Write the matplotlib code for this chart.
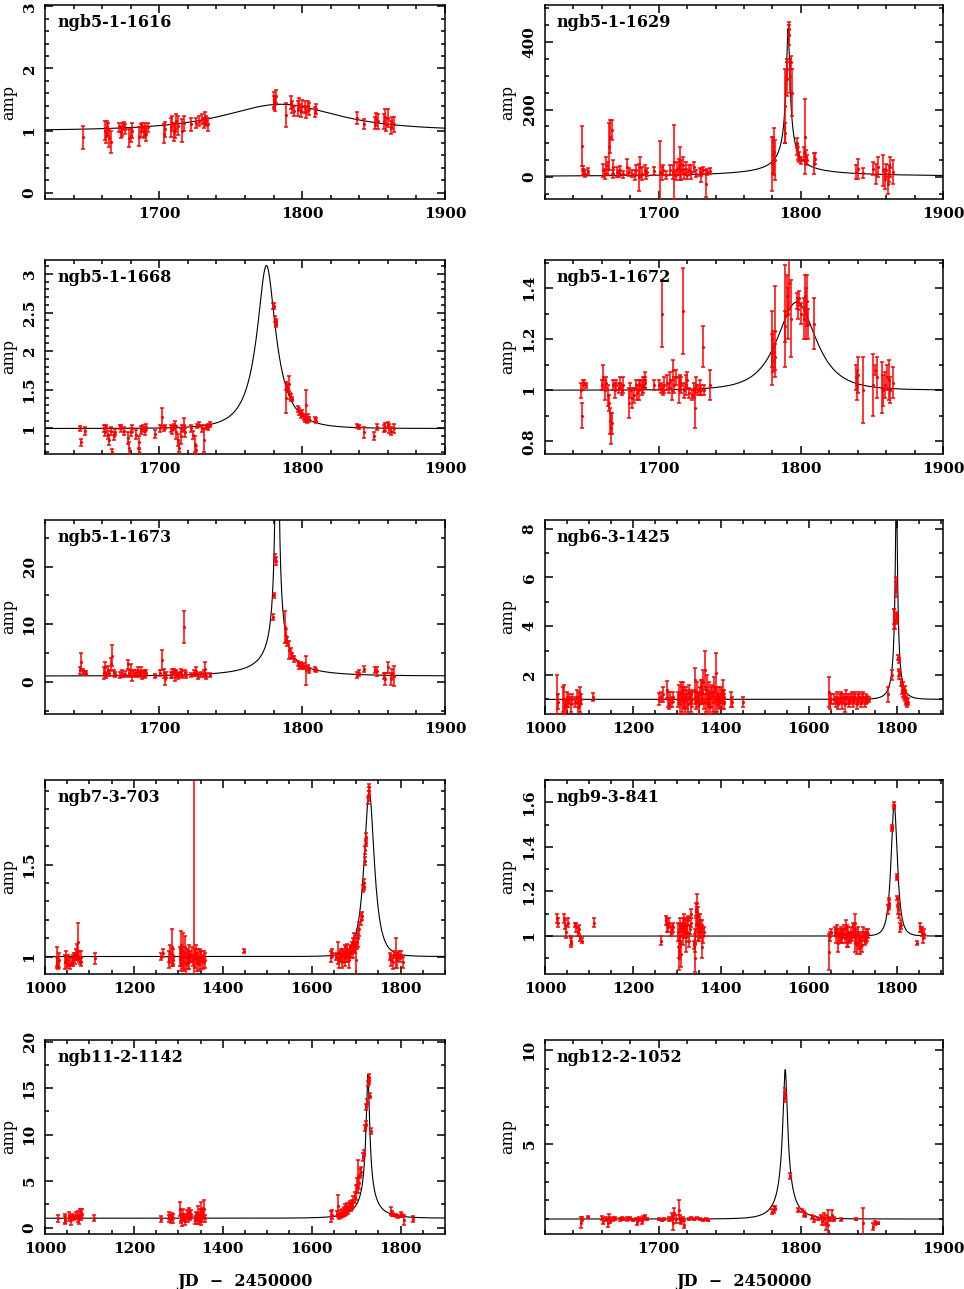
import numpy as np
import matplotlib.pyplot as plt
from matplotlib.ticker import MultipleLocator, FuncFormatter

plt.rcParams['font.family'] = 'DejaVu Serif'
plt.rcParams['font.weight'] = 'bold'

# star names, panel order: row by row, left then right
names = ['ngb5-1-1616', 'ngb5-1-1629', 'ngb5-1-1668', 'ngb5-1-1672', 'ngb5-1-1673',
         'ngb6-3-1425', 'ngb7-3-703', 'ngb9-3-841', 'ngb11-2-1142', 'ngb12-2-1052']

# model parameters (t0, tE, u0)
t0s = [1785, 1791, 1775, 1797, 1782.5, 1799, 1729.5, 1794, 1726.5, 1789]
tEs = [54, 516, 19, 17.3, 50, 21, 21, 11, 60, 14]
u0s = [0.9, 0.00227, 0.335, 0.995, 0.01, 0.10, 0.595, 0.755, 0.061, 0.112]

xlims = [(1620, 1900)] * 5 + [(1000, 1905), (1000, 1900), (1000, 1905), (1000, 1900), (1620, 1900)]
ylims = [(-0.1, 3.02), (-65, 510), (0.67, 3.18), (0.75, 1.51), (-5.6, 28.1),
         (0.4, 8.35), (0.905, 1.96), (0.83, 1.70), (-0.7, 20.2), (0.2, 10.55)]
ymaj = [1, 200, 0.5, 0.2, 10, 2, 0.5, 0.2, 5, 5]
ymin = [0.2, 50, 0.1, 0.1, 5, 1, 0.1, 0.1, 2.5, 1]

# (JD-2450000, amplification, error)
p1616 = [
    (1646.4, 0.89, 0.19),
    (1662, 1.00, 0.15), (1663, 0.92, 0.12), (1663.5, 1.05, 0.10), (1664, 1.02, 0.10), (1665, 0.88, 0.15), (1666, 0.82, 0.18),
    (1672, 1.05, 0.08), (1673, 0.98, 0.10), (1674, 1.02, 0.10), (1675, 1.08, 0.06), (1676, 1.02, 0.08),
    (1679, 0.88, 0.15), (1680, 0.92, 0.10), (1681, 1.00, 0.12),
    (1686, 0.90, 0.15), (1687, 1.00, 0.10), (1688, 1.05, 0.08), (1689, 0.98, 0.10), (1690, 1.02, 0.10), (1691, 0.95, 0.12), (1692, 1.05, 0.08),
    (1703, 0.95, 0.15), (1704, 1.02, 0.12), (1708, 1.05, 0.15), (1709, 1.12, 0.12), (1710, 0.98, 0.15), (1711, 1.00, 0.12), (1712, 1.15, 0.12), (1713, 1.08, 0.15),
    (1716, 1.00, 0.18), (1717, 1.12, 0.12), (1722, 1.10, 0.10), (1726, 1.12, 0.08), (1728, 1.15, 0.08),
    (1730, 1.18, 0.08), (1731, 1.12, 0.08), (1732, 1.20, 0.10), (1733, 1.15, 0.08), (1734, 1.10, 0.10),
    (1780, 1.50, 0.12), (1780.5, 1.45, 0.10), (1781, 1.42, 0.10), (1781.5, 1.55, 0.10),
    (1788.5, 1.25, 0.20), (1792, 1.45, 0.10), (1793, 1.38, 0.10), (1794, 1.32, 0.08),
    (1797, 1.35, 0.12), (1798, 1.42, 0.10), (1799, 1.30, 0.08), (1800, 1.40, 0.10),
    (1802, 1.38, 0.10), (1803, 1.30, 0.10), (1804, 1.40, 0.08), (1805, 1.35, 0.10),
    (1809, 1.30, 0.08), (1810, 1.35, 0.08),
    (1838.5, 1.20, 0.10), (1843.5, 1.10, 0.08),
    (1851, 1.12, 0.10), (1852, 1.18, 0.10), (1853, 1.15, 0.12),
    (1857, 1.15, 0.12), (1858, 1.22, 0.12), (1859, 1.10, 0.10), (1860, 1.20, 0.15),
    (1862, 1.05, 0.10), (1863, 1.12, 0.10), (1864.5, 1.10, 0.12),
]

p1629 = [
    (1646, 92, 58), (1646.5, 15, 10), (1647, 25, 8), (1648, 10, 10), (1650, 18, 10),
    (1661, 20, 20), (1662, 10, 15), (1663, 35, 25), (1664, 25, 20), (1665, 90, 70), (1666, 120, 50),
    (1667, 140, 30), (1667.5, 30, 20), (1668, 10, 12),
    (1671, 15, 15), (1672, 10, 10), (1673, 20, 12), (1675, 8, 10),
    (1678, 30, 25), (1679, 15, 12), (1681, 10, 10), (1683, 5, 15),
    (1684, 20, 15), (1686, 0, 40), (1687, 30, 30), (1688, 10, 20), (1690, 20, 15), (1691, 5, 10), (1692, 15, 12),
    (1696.5, 18, 12),
    (1701, 15, 92), (1702, 10, 20), (1703, 20, 15), (1705, 5, 12),
    (1708, 20, 15), (1710, 15, 20), (1711, 45, 110), (1712, 5, 15), (1713, 25, 20),
    (1714, 30, 25), (1715, 40, 50), (1716, 20, 30), (1717, 35, 25), (1718, 10, 15), (1719, 25, 20), (1720, 5, 10),
    (1721, 20, 15), (1723, 15, 20), (1725, 30, 15), (1726, 10, 10),
    (1729, 15, 12), (1730, 5, 20), (1731, 20, 10), (1733, -20, 40), (1734, 15, 10), (1736, 18, 10),
    (1780, 40, 80), (1780.5, 65, 55), (1781, 75, 70), (1781.5, 50, 60),
    (1788.5, 210, 110), (1789, 130, 30), (1790, 320, 30), (1790.5, 290, 50),
    (1791.5, 440, 20), (1792, 420, 30), (1792.5, 300, 50), (1793, 340, 20), (1793.5, 250, 70),
    (1797, 100, 15), (1797.5, 80, 15), (1798, 70, 20), (1799, 60, 15), (1800, 50, 10),
    (1802, 70, 20), (1803, 120, 110), (1803.5, 60, 20), (1804, 50, 15),
    (1809, 40, 30), (1810, 55, 15),
    (1839, 15, 20), (1840, 25, 30), (1844, 12, 15),
    (1851, 25, 20), (1853, 10, 30), (1854, 30, 30),
    (1857.5, 20, 45), (1859, -5, 30), (1860, 20, 20), (1861, -20, 30),
    (1862, 10, 25), (1863, 30, 30), (1865, 15, 35),
]

p1668 = [
    (1644.5, 1.00, 0.03), (1645.5, 0.82, 0.05), (1648, 0.97, 0.05),
    (1661, 1.00, 0.04), (1662, 0.95, 0.05), (1663, 1.02, 0.03), (1664, 0.92, 0.05), (1665, 0.85, 0.06),
    (1666, 0.97, 0.05), (1667, 0.69, 0.04), (1668, 0.90, 0.05), (1669, 0.95, 0.04),
    (1672.5, 1.02, 0.03), (1673.5, 1.00, 0.04), (1675, 0.97, 0.05),
    (1678, 0.88, 0.08), (1679, 0.75, 0.08), (1680, 0.95, 0.05), (1681, 1.00, 0.04),
    (1684, 0.92, 0.06), (1685.5, 0.82, 0.08), (1686, 0.70, 0.05), (1687, 0.98, 0.05), (1688.5, 1.00, 0.05),
    (1690, 0.97, 0.05), (1691, 1.02, 0.04), (1697, 0.93, 0.05),
    (1700.5, 1.00, 0.04), (1702, 1.15, 0.12), (1703, 1.00, 0.03), (1704, 1.02, 0.03),
    (1708, 1.00, 0.04), (1709, 0.98, 0.05), (1710, 1.02, 0.04), (1711, 1.05, 0.05), (1712, 0.95, 0.08),
    (1713, 0.85, 0.08), (1714, 0.75, 0.06), (1715, 0.90, 0.10), (1716, 1.00, 0.05), (1717, 1.05, 0.08), (1718, 0.95, 0.06),
    (1722, 1.00, 0.04), (1723.5, 0.92, 0.05), (1725, 0.80, 0.10), (1725.5, 0.72, 0.05),
    (1726.5, 1.03, 0.03), (1728, 1.05, 0.03), (1730, 1.00, 0.05), (1731, 0.85, 0.15), (1732.5, 1.02, 0.03),
    (1734, 1.02, 0.04), (1735.5, 1.05, 0.03),
    (1779.5, 2.58, 0.04), (1780, 2.58, 0.04), (1781, 2.42, 0.04), (1781.5, 2.38, 0.04), (1782, 2.35, 0.04),
    (1788.5, 1.40, 0.20), (1789, 1.55, 0.05), (1790, 1.52, 0.05), (1791, 1.58, 0.10),
    (1791.5, 1.42, 0.04), (1792.5, 1.40, 0.04), (1793, 1.38, 0.03),
    (1797, 1.25, 0.04), (1798, 1.22, 0.05), (1799, 1.18, 0.05), (1800, 1.20, 0.04),
    (1801.5, 1.15, 0.04), (1802, 1.12, 0.04), (1803, 1.30, 0.20), (1803.5, 1.10, 0.03), (1804, 1.15, 0.04), (1805, 1.12, 0.03),
    (1809, 1.12, 0.03), (1810, 1.10, 0.03),
    (1838.5, 1.03, 0.03), (1840, 1.02, 0.03), (1843.5, 0.95, 0.07),
    (1850.5, 0.90, 0.05), (1852.5, 1.02, 0.04),
    (1857, 1.00, 0.04), (1858, 1.02, 0.05), (1860, 1.05, 0.04), (1861, 1.00, 0.06), (1862.5, 0.97, 0.05), (1864, 1.00, 0.06),
]

p1672 = [
    (1645.5, 1.00, 0.03), (1646, 0.90, 0.05), (1646.5, 1.02, 0.02), (1647.5, 1.03, 0.01), (1649, 1.02, 0.01),
    (1660, 1.02, 0.02), (1661, 1.05, 0.05), (1662, 1.00, 0.04), (1663, 1.03, 0.02), (1664, 0.98, 0.04),
    (1665, 0.95, 0.03), (1666, 0.88, 0.05), (1666.5, 0.85, 0.06), (1667, 0.87, 0.04), (1668, 1.02, 0.02),
    (1669, 1.00, 0.03), (1670, 1.02, 0.02),
    (1672, 1.01, 0.02), (1673, 1.03, 0.02), (1674, 1.00, 0.02), (1675, 1.02, 0.03),
    (1679, 0.95, 0.06), (1680, 1.00, 0.03), (1681, 0.97, 0.04), (1682.5, 0.98, 0.03),
    (1684, 1.02, 0.02), (1685, 0.99, 0.03), (1686, 1.00, 0.04), (1687, 1.02, 0.02), (1688, 1.01, 0.03),
    (1689, 1.02, 0.03), (1690, 1.03, 0.02), (1690.5, 1.04, 0.03),
    (1696.5, 1.02, 0.02), (1700, 1.02, 0.02), (1701.5, 1.01, 0.02), (1702.5, 1.30, 0.13), (1703, 1.00, 0.02), (1704, 1.02, 0.03),
    (1706, 1.03, 0.03), (1707, 1.01, 0.02), (1708, 1.04, 0.03), (1709, 1.00, 0.04), (1710, 1.08, 0.04), (1711, 1.02, 0.03), (1712, 1.05, 0.03),
    (1714, 1.00, 0.05), (1715, 1.03, 0.03), (1716, 1.02, 0.03), (1717, 1.31, 0.17), (1718, 1.00, 0.03),
    (1719, 1.02, 0.04), (1720, 1.04, 0.03), (1721.5, 0.99, 0.02),
    (1723.5, 0.98, 0.02), (1724.5, 1.00, 0.03), (1725.5, 0.93, 0.08), (1726.5, 1.02, 0.03), (1727.5, 1.00, 0.02),
    (1729, 1.01, 0.03), (1730, 1.00, 0.02), (1731, 1.17, 0.08), (1732, 1.00, 0.02), (1736, 1.02, 0.06),
    (1779.5, 1.20, 0.11), (1780, 1.12, 0.10), (1780.5, 1.15, 0.08), (1781.5, 1.23, 0.18), (1782, 1.13, 0.05),
    (1788.5, 1.29, 0.20), (1789, 1.25, 0.06), (1790, 1.37, 0.08), (1791, 1.30, 0.10), (1792, 1.42, 0.10), (1793, 1.28, 0.15),
    (1797, 1.35, 0.03), (1798, 1.32, 0.04), (1799, 1.36, 0.03), (1800, 1.30, 0.04),
    (1802, 1.28, 0.08), (1803, 1.37, 0.08), (1803.5, 1.30, 0.10), (1804, 1.35, 0.10), (1805, 1.26, 0.06),
    (1809.5, 1.26, 0.10),
    (1838.5, 1.05, 0.05), (1839.5, 1.02, 0.06), (1840.5, 1.06, 0.07), (1844, 1.00, 0.13),
    (1851, 1.02, 0.12), (1852, 1.08, 0.02), (1853.5, 1.05, 0.08),
    (1857, 1.01, 0.10), (1858, 1.00, 0.06), (1859, 1.02, 0.05), (1860.5, 1.05, 0.05), (1862, 1.04, 0.08),
    (1863, 1.00, 0.05), (1864.5, 1.03, 0.06),
]

p1673 = [
    (1644.5, 2.0, 0.6), (1645.5, 3.5, 1.5), (1646.5, 1.8, 0.5), (1648, 1.5, 0.4), (1649, 1.5, 0.3),
    (1661, 1.5, 1.0), (1662, 2.5, 1.0), (1663, 1.2, 0.5), (1664, 2.0, 0.7), (1665, 1.5, 0.5), (1666, 3.0, 1.2),
    (1667, 4.5, 1.8), (1668, 1.5, 0.5), (1669, 1.3, 0.4),
    (1672.5, 1.2, 0.5), (1674, 1.5, 0.6), (1676, 1.3, 0.5),
    (1678, 3.0, 0.8), (1679, 1.5, 0.6), (1680, 2.0, 1.0), (1681, 1.0, 0.8), (1682, 1.5, 0.5),
    (1684, 1.5, 0.6), (1685, 2.0, 0.5), (1686, 1.3, 0.4), (1687, 1.8, 0.8), (1688, 1.0, 0.6), (1689, 1.5, 0.5),
    (1690, 1.2, 0.6), (1691, 1.5, 0.5), (1697, 1.0, 0.4),
    (1700.5, 1.5, 0.5), (1702, 3.8, 1.8), (1703, 1.5, 0.8), (1704, 0.5, 1.0), (1705, 1.2, 0.5),
    (1708, 1.2, 0.5), (1709, 1.5, 0.8), (1710, 1.8, 0.5), (1711, 1.0, 0.8), (1712, 1.5, 0.6), (1713, 1.0, 0.5),
    (1714, 1.3, 0.4), (1715, 1.8, 0.5), (1716, 1.2, 0.6), (1717, 9.5, 2.8), (1718, 1.5, 0.5), (1719, 1.2, 0.5),
    (1722, 1.2, 0.4), (1724, 1.5, 0.5), (1726, 1.8, 0.8), (1727, 1.0, 0.5), (1729, 1.3, 0.4), (1731, 1.5, 0.6),
    (1732, 2.2, 1.2), (1733, 1.0, 0.5), (1735.5, 1.2, 0.4),
    (1779.5, 11.2, 0.5), (1780.5, 15.0, 0.5), (1781, 21.5, 0.7), (1781.5, 21.0, 0.7),
    (1788, 9.5, 2.8), (1788.5, 8.0, 1.2), (1789.5, 7.0, 0.8), (1791, 5.5, 1.5), (1792, 5.0, 0.8),
    (1793, 4.5, 0.5), (1794, 4.0, 0.5),
    (1797, 3.2, 0.4), (1798, 2.8, 0.5), (1799, 3.0, 0.4), (1800, 2.5, 0.3),
    (1801.5, 2.8, 0.5), (1803, 2.0, 2.5), (1804, 2.5, 0.4), (1805, 2.0, 0.4),
    (1809, 2.2, 0.3), (1810, 2.0, 0.3),
    (1838.5, 1.2, 0.5), (1839.5, 1.5, 0.5), (1843.5, 2.2, 0.5),
    (1851, 2.0, 0.5), (1852.5, 1.8, 0.8),
    (1857, 1.0, 0.6), (1858, 0.5, 1.0), (1860, 2.5, 1.0), (1862, 0.5, 1.0), (1863, 1.5, 0.8), (1864.5, 1.0, 1.8),
]

p1425 = [
    (1028, 1.2, 0.8), (1029, 0.9, 0.3), (1040, 1.0, 0.5), (1043, 1.0, 0.6), (1045, 0.7, 0.3), (1047, 0.8, 0.2),
    (1050, 1.0, 0.3), (1052, 0.9, 0.2), (1055, 1.0, 0.2),
    (1058, 0.8, 0.3), (1062, 1.0, 0.2), (1068, 0.9, 0.2), (1072, 1.1, 0.3), (1075, 0.7, 0.4), (1077, 1.0, 0.3),
    (1079, 1.2, 0.3), (1080, 0.8, 0.3), (1082, 1.0, 0.2), (1110, 1.1, 0.15),
    (1260, 1.0, 0.25), (1263, 1.1, 0.2), (1268, 1.2, 0.3), (1278, 1.4, 0.35), (1280, 1.0, 0.3), (1283, 0.8, 0.2),
    (1285, 1.0, 0.3), (1288, 0.9, 0.2), (1290, 1.1, 0.2),
    (1303, 1.0, 0.3), (1305, 1.2, 0.4), (1307, 0.8, 0.4), (1309, 1.3, 0.4), (1311, 1.0, 0.5), (1313, 1.4, 0.3),
    (1315, 0.9, 0.3), (1317, 1.1, 0.4), (1319, 0.7, 0.3), (1321, 1.2, 0.3), (1323, 1.0, 0.4), (1325, 0.8, 0.3),
    (1327, 1.3, 0.3), (1329, 1.0, 0.2), (1331, 0.9, 0.4), (1333, 1.2, 0.2), (1335, 1.0, 0.3),
    (1340, 1.1, 0.3), (1342, 1.8, 0.5), (1344, 0.9, 0.3), (1346, 1.3, 0.4), (1348, 1.0, 0.3), (1350, 0.8, 0.4),
    (1352, 1.2, 0.3), (1354, 1.5, 0.3), (1356, 1.0, 0.2), (1358, 1.3, 0.5), (1360, 1.7, 0.5), (1362, 0.9, 0.3),
    (1364, 2.2, 0.8), (1366, 1.0, 0.5), (1368, 1.4, 0.6), (1370, 0.8, 0.4), (1372, 1.2, 0.5), (1374, 1.0, 0.3),
    (1376, 0.7, 0.3), (1378, 1.1, 0.4), (1380, 1.3, 0.3), (1382, 0.9, 0.4), (1384, 1.5, 0.4), (1386, 1.0, 0.5),
    (1388, 2.1, 0.8), (1390, 0.8, 0.3), (1392, 1.2, 0.3), (1394, 1.0, 0.2), (1396, 1.1, 0.4), (1398, 0.9, 0.3),
    (1400, 1.2, 0.3), (1402, 1.0, 0.4), (1404, 1.4, 0.4), (1406, 0.9, 0.3), (1408, 1.1, 0.3),
    (1423, 1.0, 0.3), (1425, 0.9, 0.2), (1450, 0.9, 0.2),
    (1646, 1.3, 0.6), (1648, 0.9, 0.3), (1650, 1.0, 0.2),
    (1658, 1.0, 0.2), (1661, 0.9, 0.2), (1664, 1.1, 0.2), (1667, 0.8, 0.2), (1670, 1.0, 0.2), (1673, 1.1, 0.2),
    (1676, 0.9, 0.3), (1679, 1.0, 0.2), (1682, 0.8, 0.3), (1685, 1.1, 0.3), (1688, 1.0, 0.2), (1691, 0.9, 0.2),
    (1694, 1.0, 0.2), (1697, 1.1, 0.2), (1700, 0.9, 0.2), (1703, 1.0, 0.2), (1706, 1.1, 0.2), (1709, 0.8, 0.2),
    (1712, 1.0, 0.2), (1715, 1.1, 0.2), (1718, 0.9, 0.2), (1721, 1.0, 0.2), (1724, 1.1, 0.2), (1727, 0.9, 0.2),
    (1730, 1.0, 0.2), (1733, 1.0, 0.15), (1736, 1.0, 0.1),
    (1780, 1.2, 0.3), (1789, 2.0, 0.2),
    (1793, 4.3, 0.4), (1794, 4.4, 0.3), (1795, 4.2, 0.3),
    (1798, 5.7, 0.3), (1799, 5.5, 0.3), (1799.5, 4.4, 0.2), (1800, 4.3, 0.2),
    (1803, 2.7, 0.1), (1804, 2.6, 0.1), (1805, 2.1, 0.15), (1806, 2.0, 0.15),
    (1810, 1.7, 0.15), (1812, 1.4, 0.2), (1813, 1.5, 0.2), (1815, 1.3, 0.2), (1816, 1.2, 0.2), (1818, 1.4, 0.15),
    (1819, 1.1, 0.15), (1820, 1.0, 0.15), (1822, 0.9, 0.15), (1824, 0.85, 0.15), (1825, 0.9, 0.15),
]

p703 = [
    (1026, 0.97, 0.03), (1028, 1.00, 0.05), (1030, 0.95, 0.02), (1032, 0.98, 0.04), (1046, 0.97, 0.04),
    (1048, 1.00, 0.03), (1050, 0.96, 0.02), (1052, 0.98, 0.03), (1056, 0.96, 0.03), (1060, 0.97, 0.02),
    (1063, 0.98, 0.03), (1066, 1.00, 0.02), (1068, 0.99, 0.03), (1070, 1.01, 0.03), (1072, 1.03, 0.04),
    (1074, 1.08, 0.10), (1076, 1.00, 0.03), (1078, 0.98, 0.02), (1080, 1.00, 0.03), (1082, 0.97, 0.02),
    (1112, 0.99, 0.03),
    (1262, 1.00, 0.02), (1265, 1.02, 0.02), (1278, 1.00, 0.03), (1280, 0.97, 0.03), (1282, 1.02, 0.04),
    (1285, 1.05, 0.10), (1287, 0.98, 0.03), (1289, 1.00, 0.04),
    (1303, 1.00, 0.05), (1305, 1.06, 0.08), (1307, 0.98, 0.06), (1309, 1.00, 0.05), (1311, 1.03, 0.10),
    (1313, 0.97, 0.05), (1315, 1.05, 0.06), (1317, 0.96, 0.06), (1319, 1.00, 0.04), (1321, 0.98, 0.05),
    (1323, 1.02, 0.04), (1325, 0.97, 0.04), (1327, 1.00, 0.03), (1330, 1.01, 0.04), (1332, 0.98, 0.03),
    (1335, 2.20, 1.60), (1338, 0.99, 0.05), (1340, 1.02, 0.04), (1342, 0.97, 0.05), (1344, 1.00, 0.04),
    (1346, 0.96, 0.04), (1348, 1.01, 0.03), (1350, 0.98, 0.05), (1352, 1.00, 0.03), (1355, 0.97, 0.04),
    (1358, 1.00, 0.03), (1361, 0.98, 0.04),
    (1447, 1.03, 0.01),
    (1643, 1.00, 0.03), (1645, 1.02, 0.02),
    (1655, 1.00, 0.02), (1660, 1.02, 0.06), (1662, 0.98, 0.04), (1664, 1.00, 0.03), (1666, 1.01, 0.03),
    (1668, 0.97, 0.03), (1670, 1.02, 0.02), (1672, 1.00, 0.03), (1674, 1.03, 0.03), (1676, 0.99, 0.04),
    (1678, 1.01, 0.04), (1680, 1.04, 0.03), (1682, 1.00, 0.03), (1684, 0.98, 0.04), (1686, 1.03, 0.03),
    (1688, 1.02, 0.03), (1690, 1.05, 0.03), (1692, 1.03, 0.04), (1694, 1.06, 0.04), (1696, 1.08, 0.05),
    (1698, 1.06, 0.04), (1700, 0.98, 0.10),
    (1702, 1.08, 0.04), (1704, 1.10, 0.05), (1707, 1.15, 0.04), (1710, 1.20, 0.03), (1713, 1.22, 0.02),
    (1716, 1.37, 0.02), (1717, 1.40, 0.02), (1718, 1.38, 0.02),
    (1720, 1.52, 0.02), (1721, 1.58, 0.02), (1722, 1.62, 0.02), (1723, 1.65, 0.02),
    (1727, 1.85, 0.02), (1728, 1.90, 0.02), (1729, 1.92, 0.02), (1730, 1.88, 0.02),
    (1777, 1.00, 0.02), (1779, 0.98, 0.03), (1783, 0.97, 0.04), (1786, 1.01, 0.02), (1789, 1.02, 0.08),
    (1791, 0.98, 0.04), (1793, 1.00, 0.02), (1796, 1.01, 0.02), (1799, 0.99, 0.02), (1802, 1.01, 0.02),
    (1805, 0.97, 0.03),
]

p841 = [
    (1028, 1.08, 0.02), (1030, 1.06, 0.02), (1043, 1.08, 0.02), (1045, 1.05, 0.02), (1047, 1.02, 0.03),
    (1052, 1.06, 0.02), (1058, 0.97, 0.02), (1060, 0.98, 0.02), (1068, 1.05, 0.01), (1071, 1.04, 0.02),
    (1074, 1.02, 0.02), (1077, 1.03, 0.02), (1080, 0.99, 0.01), (1083, 0.98, 0.01), (1111, 1.06, 0.02),
    (1263, 0.98, 0.02),
    (1276, 1.07, 0.02), (1278, 1.05, 0.03), (1280, 1.04, 0.02), (1283, 1.06, 0.02), (1286, 1.02, 0.02),
    (1289, 1.03, 0.02), (1292, 1.04, 0.02),
    (1303, 1.02, 0.04), (1304, 0.95, 0.05), (1305, 0.90, 0.05), (1306, 1.00, 0.05), (1307, 0.97, 0.06),
    (1308, 1.05, 0.03), (1310, 0.92, 0.06), (1311, 1.03, 0.03), (1313, 1.00, 0.04), (1314, 1.06, 0.02),
    (1316, 1.02, 0.03), (1317, 1.08, 0.02), (1319, 1.04, 0.03), (1320, 0.98, 0.05), (1322, 1.05, 0.03),
    (1324, 1.02, 0.03), (1325, 1.07, 0.02), (1327, 0.98, 0.03), (1329, 1.03, 0.02), (1331, 1.06, 0.02),
    (1333, 1.10, 0.02),
    (1338, 0.96, 0.02), (1340, 0.90, 0.06), (1341, 0.97, 0.04), (1342, 1.00, 0.03), (1343, 1.05, 0.03),
    (1344, 1.12, 0.03), (1345, 1.08, 0.03), (1346, 1.15, 0.04), (1347, 1.02, 0.04), (1348, 1.06, 0.03),
    (1349, 1.10, 0.03), (1350, 1.04, 0.02), (1351, 1.00, 0.02), (1352, 1.07, 0.03), (1353, 1.03, 0.04),
    (1354, 1.02, 0.02), (1356, 1.05, 0.02), (1358, 0.95, 0.05), (1360, 1.00, 0.03), (1362, 1.02, 0.02),
    (1646, 0.93, 0.08), (1648, 1.00, 0.02), (1650, 1.02, 0.01),
    (1660, 1.02, 0.02), (1662, 1.00, 0.03), (1664, 1.03, 0.02), (1666, 0.97, 0.04), (1668, 1.00, 0.02),
    (1670, 1.01, 0.02), (1672, 0.99, 0.02), (1674, 1.02, 0.02), (1676, 1.00, 0.03), (1678, 1.01, 0.02),
    (1680, 1.03, 0.02), (1682, 0.99, 0.02), (1684, 1.04, 0.03), (1686, 1.00, 0.05), (1688, 0.98, 0.03),
    (1690, 1.02, 0.02), (1692, 1.00, 0.02), (1694, 0.99, 0.02), (1696, 1.02, 0.02), (1698, 1.00, 0.02),
    (1700, 1.04, 0.02), (1702, 1.02, 0.03), (1704, 1.06, 0.04), (1705, 0.97, 0.04), (1707, 1.00, 0.03),
    (1709, 0.96, 0.04), (1711, 1.02, 0.02), (1713, 0.97, 0.03), (1715, 0.99, 0.02), (1717, 0.95, 0.03),
    (1719, 1.00, 0.02), (1721, 0.96, 0.03), (1723, 1.02, 0.02), (1725, 1.00, 0.02), (1727, 0.98, 0.02),
    (1729, 1.01, 0.02), (1731, 0.99, 0.02), (1733, 1.00, 0.02), (1735, 1.01, 0.02),
    (1781, 1.12, 0.02), (1782, 1.14, 0.02), (1783, 1.15, 0.02),
    (1789.5, 1.48, 0.01), (1790, 1.49, 0.01), (1793.5, 1.58, 0.01), (1794, 1.59, 0.01),
    (1799.5, 1.27, 0.01), (1800, 1.26, 0.01),
    (1801.5, 1.17, 0.01), (1802, 1.15, 0.02), (1803, 1.12, 0.02), (1804, 1.10, 0.02),
    (1808, 1.04, 0.02), (1809, 1.05, 0.02),
    (1845, 0.97, 0.01), (1853, 1.04, 0.02), (1855, 1.03, 0.01), (1858, 1.02, 0.02), (1860, 0.99, 0.02),
    (1861, 1.01, 0.02),
]

p1142 = [
    (1030, 1.0, 0.4), (1044, 1.0, 0.5), (1046, 0.8, 0.4), (1055, 1.2, 0.5), (1058, 0.8, 0.5), (1060, 1.2, 0.3),
    (1066, 1.1, 0.3), (1070, 1.3, 0.4), (1074, 1.2, 0.6), (1076, 0.9, 0.5), (1078, 1.5, 0.5), (1081, 1.4, 0.6),
    (1084, 1.5, 0.5), (1111, 1.0, 0.3),
    (1262, 0.9, 0.3), (1278, 1.0, 0.4), (1280, 1.3, 0.4), (1283, 0.9, 0.4), (1286, 1.2, 0.4), (1288, 1.0, 0.5),
    (1303, 2.0, 0.8), (1305, 1.3, 0.6), (1307, 1.0, 0.5), (1309, 0.8, 0.6), (1311, 1.5, 0.5), (1313, 1.1, 0.4),
    (1315, 0.7, 0.4), (1317, 1.2, 0.3), (1319, 1.4, 0.5), (1321, 1.0, 0.4), (1323, 1.6, 0.5), (1325, 1.3, 0.4),
    (1327, 1.1, 0.3), (1329, 1.5, 0.4), (1338, 0.8, 0.4), (1340, 1.2, 0.5), (1342, 1.0, 0.6), (1344, 1.5, 0.8),
    (1346, 0.9, 0.5), (1348, 1.3, 0.7), (1350, 2.0, 0.8), (1352, 0.8, 0.5), (1354, 1.2, 0.6), (1356, 1.5, 0.6),
    (1358, 2.0, 1.0), (1360, 1.0, 0.4),
    (1643, 1.2, 0.6), (1645, 1.4, 0.5),
    (1658, 1.5, 0.3), (1660, 2.3, 1.2), (1662, 1.2, 0.3), (1664, 1.5, 0.4), (1666, 1.3, 0.3), (1668, 1.6, 0.4),
    (1670, 1.4, 0.3), (1672, 1.8, 0.4), (1674, 1.6, 0.4), (1676, 2.0, 0.5), (1678, 1.8, 0.4), (1680, 2.1, 0.5),
    (1682, 1.9, 0.4), (1684, 2.2, 0.4), (1686, 2.4, 0.5), (1688, 2.2, 0.4), (1690, 2.5, 0.5),
    (1694, 2.8, 0.6), (1698, 3.2, 0.6), (1700, 3.8, 0.8), (1703, 4.5, 0.8), (1705, 5.5, 1.8), (1707, 4.8, 0.6),
    (1709, 5.8, 0.5), (1712, 6.0, 0.5), (1716, 7.6, 0.4), (1717, 8.0, 0.3),
    (1721, 10.7, 0.3), (1722, 11.2, 0.3), (1723, 13.0, 0.3), (1724, 13.5, 0.3),
    (1727, 15.5, 0.3), (1728, 16.2, 0.3), (1729, 15.8, 0.3), (1731, 14.2, 0.3), (1734, 10.4, 0.3),
    (1778, 1.8, 0.4), (1780, 1.5, 0.3), (1784, 1.4, 0.2), (1790, 1.3, 0.2), (1795, 1.2, 0.2),
    (1800, 1.4, 0.3), (1803, 1.3, 0.2), (1807, 0.8, 0.5), (1827, 0.9, 0.3),
]

p1052 = [
    (1645, 0.8, 0.3), (1646, 1.0, 0.1), (1650, 1.1, 0.05),
    (1660, 1.05, 0.1), (1661, 0.9, 0.15), (1663, 1.0, 0.1), (1664, 0.8, 0.2), (1665, 1.1, 0.15),
    (1666, 0.9, 0.1), (1668, 1.0, 0.1), (1669, 1.05, 0.08),
    (1673, 1.0, 0.08), (1674, 1.05, 0.05), (1675, 1.0, 0.05),
    (1678, 1.0, 0.1), (1680, 1.05, 0.08), (1682, 0.95, 0.05), (1684, 1.0, 0.05), (1685, 0.85, 0.15),
    (1686, 1.0, 0.1), (1688, 0.9, 0.15), (1689, 1.05, 0.1), (1690, 1.1, 0.1), (1692, 1.0, 0.05),
    (1700, 1.0, 0.05), (1702, 0.95, 0.05), (1704, 1.0, 0.05),
    (1707, 1.0, 0.1), (1709, 1.1, 0.2), (1710, 0.8, 0.4), (1711, 1.3, 0.3), (1712, 1.0, 0.2), (1714, 1.5, 0.5),
    (1715, 1.0, 0.2), (1716, 0.9, 0.15), (1717, 1.0, 0.1), (1718, 0.7, 0.2),
    (1721, 1.0, 0.05), (1723, 1.05, 0.05), (1725, 1.0, 0.05), (1727, 1.05, 0.05), (1729, 1.0, 0.05),
    (1731, 0.95, 0.05), (1733, 1.0, 0.05), (1735, 0.95, 0.03),
    (1780, 1.4, 0.15), (1781, 1.5, 0.2), (1782, 1.6, 0.1),
    (1788.5, 7.7, 0.3), (1788.8, 7.5, 0.25), (1792.5, 3.3, 0.15),
    (1798, 1.5, 0.1), (1801, 1.45, 0.1), (1802, 1.3, 0.15), (1803, 1.2, 0.1),
    (1808, 1.1, 0.1), (1809, 1.0, 0.15), (1812, 1.0, 0.05), (1814, 1.1, 0.1), (1815, 0.9, 0.2), (1816, 1.0, 0.3),
    (1818, 0.8, 0.4), (1819, 0.7, 0.8), (1820, 1.0, 0.1), (1822, 1.2, 0.3), (1823, 1.0, 0.1),
    (1828, 1.0, 0.08), (1839, 1.0, 0.05), (1844, 0.8, 0.8),
    (1851, 0.6, 0.2), (1852, 0.8, 0.1), (1854, 0.8, 0.05),
]

data = [p1616, p1629, p1668, p1672, p1673, p1425, p703, p841, p1142, p1052]


def amp(t, t0, te, u0):
    u = np.sqrt(u0 ** 2 + ((t - t0) / te) ** 2)
    return (u ** 2 + 2) / (u * np.sqrt(u ** 2 + 4))


W, H = 964, 1289
fig = plt.figure(figsize=(W / 100, H / 100), dpi=100)

col_x = [(45, 400), (545, 398)]
label_x = [9, 508]
row_top = [5, 260, 520, 780, 1040]
ph = 194

fmt = FuncFormatter(lambda v, p: '%g' % v)

for i in range(10):
    r, c = divmod(i, 2)
    x0, w = col_x[c]
    ax = fig.add_axes([x0 / W, 1 - (row_top[r] + ph) / H, w / W, ph / H])

    t = np.array([p[0] for p in data[i]])
    a = np.array([p[1] for p in data[i]])
    e = np.array([p[2] for p in data[i]])

    tt = np.linspace(xlims[i][0], xlims[i][1], 30000)
    ax.plot(tt, amp(tt, t0s[i], tEs[i], u0s[i]), color='black', lw=0.8, zorder=2)
    ax.errorbar(t, a, yerr=e, fmt='.', color='red', ecolor='red', ms=2.5,
                elinewidth=1.1, capsize=1.3, capthick=1.1, zorder=3)

    ax.set_xlim(*xlims[i])
    ax.set_ylim(*ylims[i])
    if xlims[i][0] < 1500:
        ax.xaxis.set_major_locator(MultipleLocator(200))
        ax.xaxis.set_minor_locator(MultipleLocator(50))
    else:
        ax.xaxis.set_major_locator(MultipleLocator(100))
        ax.xaxis.set_minor_locator(MultipleLocator(20))
    ax.yaxis.set_major_locator(MultipleLocator(ymaj[i]))
    ax.yaxis.set_minor_locator(MultipleLocator(ymin[i]))
    ax.xaxis.set_major_formatter(fmt)
    ax.yaxis.set_major_formatter(fmt)

    ax.tick_params(which='both', direction='in', top=True, right=True, width=1.1, labelsize=11)
    ax.tick_params(which='major', length=6)
    ax.tick_params(which='minor', length=3)
    ax.tick_params(axis='x', pad=6)
    ax.tick_params(axis='y', pad=6)
    for lab in ax.get_yticklabels():
        lab.set_rotation(90)
        lab.set_va('center')
    for s in ax.spines.values():
        s.set_linewidth(1.1)

    ax.set_ylabel('amp', fontsize=11.5)
    ax.yaxis.label.set_va('center')
    ax.yaxis.set_label_coords((label_x[c] - x0) / w, 0.5)
    ax.text(0.03, 0.91, names[i], transform=ax.transAxes, fontsize=11.5, ha='left', va='center')

fig.text(245 / W, 1 - 1281 / H, 'JD  −  2450000', ha='center', va='center', fontsize=11.5)
fig.text(744 / W, 1 - 1281 / H, 'JD  −  2450000', ha='center', va='center', fontsize=11.5)

fig.savefig('out.png', dpi=100)
